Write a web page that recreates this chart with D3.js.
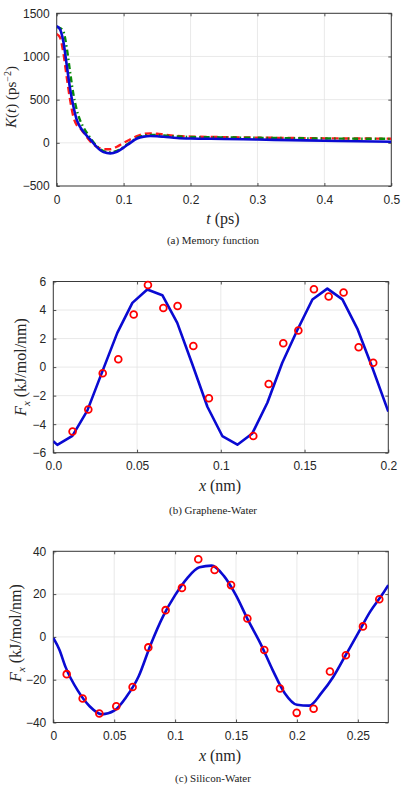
<!DOCTYPE html>
<html>
<head>
<meta charset="utf-8">
<script src="https://cdn.jsdelivr.net/npm/d3@7"></script>
<style>
  body { margin: 0; background: #fff; }
  svg { display: block; }
</style>
</head>
<body>
<div id="chart"></div>
<script>
// (a) memory function K(t)
var tMem   = [0, 0.005, 0.01, 0.015, 0.02, 0.025, 0.03, 0.035, 0.04, 0.05, 0.06, 0.07, 0.08, 0.09, 0.1, 0.11, 0.12, 0.13, 0.14, 0.15, 0.16, 0.18, 0.2, 0.25, 0.3, 0.35, 0.4, 0.45, 0.5];
var kRed   = [1260, 1220, 1040, 760, 500, 300, 205, 170, 120, 20, -45, -72, -75, -45, 0, 40, 78, 102, 110, 105, 96, 80, 72, 66, 60, 56, 52, 50, 48];
var kGreen = [1340, 1330, 1290, 1100, 820, 560, 380, 260, 180, 60, -40, -95, -110, -92, -48, 8, 58, 84, 92, 90, 85, 74, 68, 63, 58, 54, 50, 48, 46];
var kBlue  = [1350, 1315, 1170, 900, 625, 420, 265, 185, 127, 40, -50, -108, -122, -103, -55, 0, 50, 72, 79, 76, 70, 56, 50, 45, 38, 31, 24, 18, 12];
var memXTicks = [0, 0.1, 0.2, 0.3, 0.4, 0.5];
var memYTicks = [-500, 0, 500, 1000, 1500];

// (b) graphene-water
var gwLineX = [0, 0.0024, 0.0114, 0.0203, 0.0293, 0.0382, 0.0472, 0.0561, 0.0651, 0.0740, 0.0830, 0.0920, 0.1009, 0.1099, 0.1188, 0.1278, 0.1367, 0.1457, 0.1547, 0.1636, 0.1726, 0.1815, 0.1905, 0.2];
var gwLineF = [-5.2, -5.45, -4.82, -3.05, -0.3, 2.4, 4.5, 5.44, 5.04, 3.1, 0.2, -2.78, -4.83, -5.44, -4.65, -2.5, 0.3, 2.6, 4.74, 5.5, 4.75, 2.7, -0.05, -3.12];
var gwDotX  = [0.0115, 0.0209, 0.0295, 0.0388, 0.048, 0.0565, 0.0657, 0.0742, 0.0836, 0.0929, 0.1194, 0.1286, 0.1373, 0.1463, 0.1556, 0.1644, 0.1733, 0.1823, 0.191];
var gwDotF  = [-4.51, -2.97, -0.43, 0.55, 3.69, 5.75, 4.14, 4.28, 1.48, -2.18, -4.83, -1.18, 1.67, 2.57, 5.46, 4.95, 5.23, 1.39, 0.31];
var gwXTicks = [0, 0.05, 0.1, 0.15, 0.2];
var gwXLabels = ["0.0", "0.05", "0.1", "0.15", "0.2"];
var gwYTicks = [-6, -4, -2, 0, 2, 4, 6];

// (c) silicon-water
var swLineX = [0, 0.005, 0.01, 0.02, 0.03, 0.04, 0.05, 0.06, 0.07, 0.08, 0.09, 0.1, 0.11, 0.12, 0.13, 0.14, 0.15, 0.16, 0.17, 0.18, 0.19, 0.2, 0.21, 0.22, 0.23, 0.24, 0.25, 0.26, 0.27, 0.275];
var swLineF = [-0.5, -6, -14, -25, -32.5, -36.2, -34.5, -28, -18.5, -3.5, 9.5, 19.5, 27.5, 32.5, 33.3, 28.5, 19.4, 7.7, -3, -15.4, -26.3, -31.7, -32.1, -26.3, -18.5, -8.5, 1.5, 11.7, 19.8, 24.2];
var swDotX  = [0.011, 0.0241, 0.0378, 0.0517, 0.0651, 0.078, 0.0922, 0.1056, 0.119, 0.1324, 0.1459, 0.1593, 0.1732, 0.1861, 0.1998, 0.2137, 0.2271, 0.2402, 0.2542, 0.2676];
var swDotF  = [-17.4, -28.8, -35.8, -32.4, -23.4, -4.9, 12.5, 22.9, 36.3, 31.3, 24.2, 8.6, -6.1, -24.1, -35.5, -33.6, -16.2, -8.6, 4.9, 17.6];
var swXTicks = [0, 0.05, 0.1, 0.15, 0.2, 0.25];
var swYTicks = [-40, -20, 0, 20, 40];

var svgWidth = 401;
var svgHeight = 786;

var svg = d3.select("#chart")
    .append("svg")
    .attr("width", svgWidth)
    .attr("height", svgHeight);

var tickFont = "'Liberation Sans', Arial, Helvetica, sans-serif";
var mathFont = "'Liberation Serif', 'Times New Roman', serif";
var axisColor = "#262626";

function drawPanel(p) {
    var w = p.right - p.left;
    var h = p.bottom - p.top;
    var g = svg.append("g").attr("transform", `translate(${p.left}, ${p.top})`);

    var x = d3.scaleLinear().domain(p.xDomain).range([0, w]);
    var y = d3.scaleLinear().domain(p.yDomain).range([h, 0]);

    var clipId = "clip-" + p.id;
    g.append("clipPath").attr("id", clipId)
        .append("rect").attr("width", w).attr("height", h);

    // grid
    g.append("g").selectAll("line.gx").data(p.xTicks).enter().append("line")
        .attr("x1", d => x(d)).attr("x2", d => x(d))
        .attr("y1", 0).attr("y2", h)
        .attr("stroke", "#e3e3e3").attr("stroke-width", 0.8);
    g.append("g").selectAll("line.gy").data(p.yTicks).enter().append("line")
        .attr("x1", 0).attr("x2", w)
        .attr("y1", d => y(d)).attr("y2", d => y(d))
        .attr("stroke", "#e3e3e3").attr("stroke-width", 0.8);

    // axes with inward ticks
    var bottomAxis = d3.axisBottom(x).tickValues(p.xTicks).tickSizeInner(-3).tickSizeOuter(0)
        .tickPadding(9).tickFormat((d, i) => p.xLabels ? p.xLabels[i] : d3.format("")(d));
    var leftAxis = d3.axisLeft(y).tickValues(p.yTicks).tickSizeInner(-3).tickSizeOuter(0)
        .tickPadding(7).tickFormat(d3.format(""));
    var topAxis = d3.axisTop(x).tickValues(p.xTicks).tickSizeInner(-3).tickSizeOuter(0).tickFormat("");
    var rightAxis = d3.axisRight(y).tickValues(p.yTicks).tickSizeInner(-3).tickSizeOuter(0).tickFormat("");

    var axes = [
        g.append("g").attr("transform", `translate(0, ${h})`).call(bottomAxis),
        g.append("g").call(leftAxis),
        g.append("g").call(topAxis),
        g.append("g").attr("transform", `translate(${w}, 0)`).call(rightAxis)
    ];
    axes.forEach(a => {
        a.select(".domain").remove();
        a.selectAll("line").attr("stroke", axisColor).attr("stroke-width", 0.8);
        a.selectAll("text").attr("fill", axisColor)
            .attr("font-family", tickFont).attr("font-size", "12px");
    });

    // box
    g.append("rect").attr("width", w).attr("height", h)
        .attr("fill", "none").attr("stroke", "#3a3a3a").attr("stroke-width", 1);

    var plot = g.append("g").attr("clip-path", `url(#${clipId})`);
    p.lines.forEach(l => {
        var line = d3.line()
            .x((d, i) => x(l.xs[i]))
            .y(d => y(d))
            .curve(l.curve || d3.curveLinear);
        plot.append("path")
            .datum(l.ys)
            .attr("d", line)
            .attr("fill", "none")
            .attr("stroke", l.color)
            .attr("stroke-width", l.width)
            .attr("stroke-dasharray", l.dash || null)
            .attr("stroke-linejoin", "round");
    });

    if (p.dots) {
        g.append("g").selectAll("circle")
            .data(p.dots.ys)
            .enter()
            .append("circle")
            .attr("cx", (d, i) => x(p.dots.xs[i]))
            .attr("cy", d => y(d))
            .attr("r", 3.4)
            .attr("fill", "none")
            .attr("stroke", "#ff0000")
            .attr("stroke-width", 1.8);
    }

    // x label
    var xl = svg.append("text")
        .attr("x", p.xLabelPos[0]).attr("y", p.xLabelPos[1])
        .attr("text-anchor", "middle")
        .attr("font-family", mathFont).attr("font-size", "16px").attr("fill", axisColor);
    xl.append("tspan").attr("font-style", "italic").text(p.xVar);
    xl.append("tspan").text(" (" + p.xUnit + ")");

    // y label
    var yl = svg.append("text")
        .attr("transform", `translate(${p.yLabelPos[0]}, ${p.yLabelPos[1]}) rotate(-90)`)
        .attr("text-anchor", "middle")
        .attr("font-family", mathFont).attr("font-size", p.yLabelSize || "16px").attr("fill", axisColor);
    p.yLabel(yl);

    // caption
    svg.append("text")
        .attr("x", 213).attr("y", p.captionY)
        .attr("text-anchor", "middle")
        .attr("font-family", mathFont).attr("font-size", "11px").attr("fill", "#222")
        .text(p.caption);
}

function forceLabel(t) {
    t.append("tspan").attr("font-style", "italic").text("F");
    t.append("tspan").attr("font-style", "italic").attr("font-size", "11px").attr("dy", 4).text("x");
    t.append("tspan").attr("dy", -4).text(" (kJ/mol/nm)");
}

drawPanel({
    id: "a", left: 56.7, right: 391.3, top: 13.3, bottom: 186,
    xDomain: [0, 0.5], yDomain: [-500, 1500],
    xTicks: memXTicks, yTicks: memYTicks,
    lines: [
        { xs: tMem, ys: kRed, color: "#ff1a1a", width: 2.4, dash: "7,4", curve: d3.curveMonotoneX },
        { xs: tMem, ys: kGreen, color: "#0a8a0a", width: 2.4, dash: "6,3,1.5,3", curve: d3.curveMonotoneX },
        { xs: tMem, ys: kBlue, color: "#0a0ad2", width: 2.6, curve: d3.curveMonotoneX }
    ],
    xVar: "t", xUnit: "ps", xLabelPos: [223, 224],
    yLabelPos: [16, 97], yLabelSize: "15px",
    yLabel: function(t) {
        t.append("tspan").attr("font-style", "italic").text("K");
        t.append("tspan").text("(");
        t.append("tspan").attr("font-style", "italic").text("t");
        t.append("tspan").text(") (ps");
        t.append("tspan").attr("font-size", "10px").attr("dy", -5).text("\u22122");
        t.append("tspan").attr("dy", 5).text(")");
    },
    caption: "(a)  Memory function", captionY: 244
});

drawPanel({
    id: "b", left: 53.3, right: 388.3, top: 281.5, bottom: 452.7,
    xDomain: [0, 0.2], yDomain: [-6, 6],
    xTicks: gwXTicks, xLabels: gwXLabels, yTicks: gwYTicks,
    lines: [
        { xs: gwLineX, ys: gwLineF, color: "#0a0ad2", width: 2.6 }
    ],
    dots: { xs: gwDotX, ys: gwDotF },
    xVar: "x", xUnit: "nm", xLabelPos: [220, 491],
    yLabelPos: [26, 367],
    yLabel: forceLabel,
    caption: "(b)  Graphene-Water", captionY: 514
});

drawPanel({
    id: "c", left: 53.3, right: 388.3, top: 551.3, bottom: 722.5,
    xDomain: [0, 0.275], yDomain: [-40, 40],
    xTicks: swXTicks, yTicks: swYTicks,
    lines: [
        { xs: swLineX, ys: swLineF, color: "#0a0ad2", width: 2.6, curve: d3.curveMonotoneX }
    ],
    dots: { xs: swDotX, ys: swDotF },
    xVar: "x", xUnit: "nm", xLabelPos: [220, 761],
    yLabelPos: [21, 633],
    yLabel: forceLabel,
    caption: "(c)  Silicon-Water", captionY: 782
});
</script>
</body>
</html>
